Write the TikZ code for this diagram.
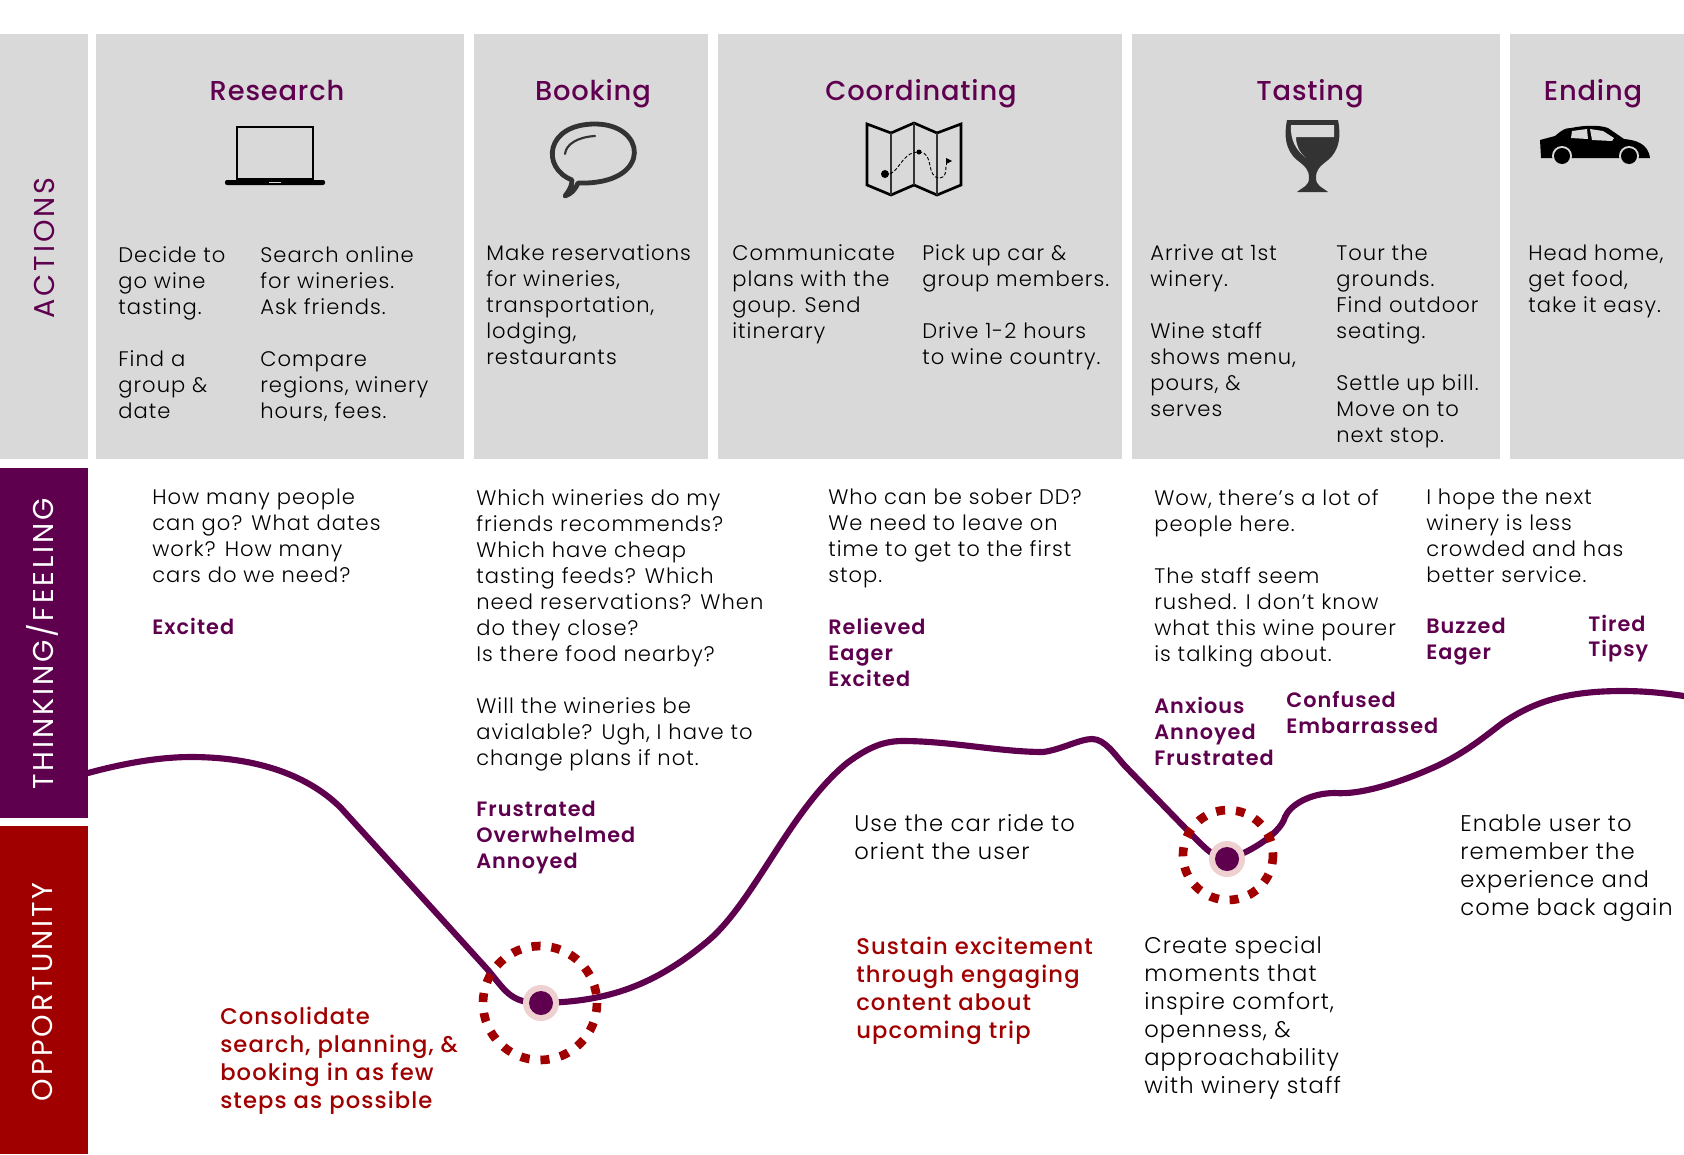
\documentclass[tikz,border=0pt]{standalone}
\usepackage{fontspec}
\setmainfont{Poppins Light}[LetterSpace=5]
\newfontfamily\medfont{Poppins Medium}[LetterSpace=3]
\newfontfamily\sidefont{Poppins}[LetterSpace=10]
\newfontfamily\boldfont{Poppins SemiBold}[LetterSpace=5]
\newfontfamily\chancefont{Poppins Medium}[LetterSpace=4.9]
\definecolor{plum}{HTML}{5F004F}
\definecolor{wine}{HTML}{A00000}
\definecolor{panel}{HTML}{D9D9D9}
\definecolor{blush}{HTML}{EFD0D0}
\definecolor{ink}{HTML}{333333}
\tikzset{
	panelbox/.style={fill=panel, draw=none},
	heading/.style={anchor=base, font=\medfont\fontsize{20.5}{24}\selectfont, text=plum, inner sep=0pt},
	sidelabel/.style={rotate=90, font=\sidefont\fontsize{21.5}{24}\selectfont, inner sep=0pt},
	body/.style={anchor=north west, align=left, inner sep=0pt, font=\fontsize{15.8}{19.5}\selectfont, text=black},
	feeling/.style={anchor=north west, align=left, inner sep=0pt, font=\boldfont\fontsize{15.6}{19.5}\selectfont, text=plum},
	bigbody/.style={anchor=north west, align=left, inner sep=0pt, font=\fontsize{17}{21}\selectfont, text=black},
	chance/.style={anchor=north west, align=left, inner sep=0pt, font=\chancefont\fontsize{17}{21}\selectfont, text=wine},
	dashring/.style={draw=wine, line width=6.5pt, dash pattern=on 6.8pt off 8.2pt},
}
\begin{document}
\begin{tikzpicture}[x=0.75pt, y=-0.75pt]
			\useasboundingbox (0,0) rectangle (1684,1154);
			% Panels
			\fill[panelbox] (0,34) rectangle (88,459);
			\fill[panelbox] (96,34) rectangle (464,459);
			\fill[panelbox] (474,34) rectangle (708,459);
			\fill[panelbox] (718,34) rectangle (1122,459);
			\fill[panelbox] (1132,34) rectangle (1500,459);
			\fill[panelbox] (1510,34) rectangle (1684,459);
			\fill[plum] (0,468) rectangle (88,818);
			\fill[wine] (0,826) rectangle (88,1154);
			% Side labels
			\node[sidelabel, text=plum] (actions) at (44,248) {ACTIONS};
			\node[sidelabel, text=white] (thinking) at (42,644) {THINKING/FEELING};
			\node[sidelabel, text=white] (opportunity) at (42,992) {OPPORTUNITY};
			% Headings
			\foreach \name/\x/\word in {research/277/Research, booking/593/Booking, coordinating/921/Coordinating, tasting/1310/Tasting, ending/1593/Ending}
			\node[heading] (\name) at (\x,100) {\word};
			% Laptop
			\draw[line width=2.2pt] (237,127) rectangle (313,179);
			\fill[rounded corners=1.5pt] (225,180) rectangle (325,185);
			\fill[panel] (269,181.5) rectangle (281,183);
			% Speech bubble
			\draw[ink, line width=3.6pt, line join=round] (572,180) .. controls (541,168) and (545,124) .. (595,124) .. controls (646,124) and (652,181) .. (586,183) -- (578,183) .. controls (575,190) and (571,194) .. (565,196) .. controls (569,191) and (572,186) .. (572,180) -- cycle;
			\draw[ink, line width=1.6pt, line cap=round] (565,154) .. controls (566,144) and (578,137) .. (595,136);
			% Map
			\draw[line width=2pt, line join=miter] (867,124) -- (891,133) -- (914,123) -- (937,133) -- (961,124) -- (961,185) -- (937,195) -- (914,185) -- (891,195) -- (867,185) -- cycle;
			\draw[ink, line width=0.9pt] (891,133) -- (891,195) (914,123) -- (914,185) (937,133) -- (937,195);
			\draw[line width=0.7pt, dash pattern=on 2.5pt off 1.5pt] (885,175) .. controls (900,175) and (900,152) .. (919,152) .. controls (935,152) and (925,178) .. (940,178) .. controls (946,178) and (946,170) .. (946,165);
			\draw[line width=0.7pt] (946,165) -- (946,159);
			\fill (885,174) circle (4);
			\fill (919,152) circle (2.5);
			\fill (946,158) -- (952,161) -- (946,164) -- cycle;
			% Wine glass
			\fill[ink] (1287,120) -- (1338,120) .. controls (1341,135) and (1340,150) .. (1328,160) .. controls (1319,167) and (1316,170) .. (1316,178) .. controls (1316,186) and (1322,187) .. (1328,192) -- (1297,192) .. controls (1303,187) and (1309,186) .. (1309,178) .. controls (1309,170) and (1306,167) .. (1297,160) .. controls (1285,150) and (1284,135) .. (1287,120) -- cycle;
			\fill[panel] (1291,125) -- (1334,125) -- (1334,137) -- (1296,137) .. controls (1296,145) and (1299,152) .. (1306,158) .. controls (1296,150) and (1290,140) .. (1291,125) -- cycle;
			% Car
			\fill (1541,158) -- (1540,140) -- (1555,136) .. controls (1562,130) and (1565,128) .. (1571,128) .. controls (1585,125) and (1600,125) .. (1608,128) -- (1624,139) .. controls (1635,140) and (1648,143) .. (1650,158) -- (1541,158) -- cycle;
			\fill[panel] (1572,131) -- (1587,129) -- (1588,139) -- (1571,138) -- cycle;
			\fill[panel] (1590,129) -- (1603,131) -- (1614,138) -- (1612,141) -- (1592,140) -- cycle;
			\fill[panel] (1562,156) circle (10);
			\fill[panel] (1629,156) circle (10);
			\fill (1562,156) circle (8);
			\fill (1629,156) circle (8);
			% Action texts
			\node[body] (act1) at (118,246) {Decide to\\go wine\\tasting.\\[19.5pt]Find a\\group \&\\date};
			\node[body] (act2) at (260,246) {Search online\\for wineries.\\Ask friends.\\[19.5pt]Compare\\regions, winery\\hours, fees.};
			\node[body] (act3) at (486,244) {Make reservations\\for wineries,\\transportation,\\lodging,\\restaurants};
			\node[body] (act4) at (732,244) {Communicate\\plans with the\\goup. Send\\itinerary};
			\node[body] (act5) at (922,244) {Pick up car \&\\group members.\\[19.5pt]Drive 1-2 hours\\to wine country.};
			\node[body] (act6) at (1150,244) {Arrive at 1st\\winery.\\[19.5pt]Wine staff\\shows menu,\\pours, \&\\serves};
			\node[body] (act7) at (1336,245) {Tour the\\grounds.\\Find outdoor\\seating.\\[19.5pt]Settle up bill.\\Move on to\\next stop.};
			\node[body] (act8) at (1528,245) {Head home,\\get food,\\take it easy.};
			% Thoughts
			\node[body] (think1) at (152,489) {How many people\\can go? What dates\\work? How many\\cars do we need?};
			\node[feeling] (feel1) at (152,618) {Excited};
			\node[body] (think2) at (476,489) {Which wineries do my\\friends recommends?\\Which have cheap\\tasting feeds? Which\\need reservations? When\\do they close?\\Is there food nearby?\\[19.5pt]Will the wineries be\\avialable? Ugh, I have to\\change plans if not.};
			\node[feeling] (feel2) at (476,801) {Frustrated\\Overwhelmed\\Annoyed};
			\node[body] (think3) at (828,489) {Who can be sober DD?\\We need to leave on\\time to get to the first\\stop.};
			\node[feeling] (feel3) at (828,618) {Relieved\\Eager\\Excited};
			\node[body] (think4) at (1154,489) {Wow, there’s a lot of\\people here.\\[19.5pt]The staff seem\\rushed. I don’t know\\what this wine pourer\\is talking about.};
			\node[feeling] (feel4) at (1154,697) {Anxious\\Annoyed\\Frustrated};
			\node[feeling] (feel5) at (1286,691) {Confused\\Embarrassed};
			\node[body] (think5) at (1426,489) {I hope the next\\winery is less\\crowded and has\\better service.};
			\node[feeling] (feel6) at (1426,618) {Buzzed\\Eager};
			\node[feeling, font=\boldfont\fontsize{15.6}{18.5}\selectfont] (feel7) at (1588,615) {Tired\\Tipsy};
			% Journey line
			\draw[plum, line width=4.6pt, line cap=round] (88,773) .. controls (125,763) and (160,757) .. (191,757) .. controls (250,757) and (305,772) .. (341,808) -- (488,970) .. controls (505,990) and (510,1003) .. (540,1003) .. controls (600,1002) and (650,990) .. (709,940) .. controls (755,900) and (790,810) .. (847,763) .. controls (870,746) and (885,741) .. (903,741) .. controls (950,741) and (1000,752) .. (1043,752) .. controls (1060,750) and (1080,739) .. (1092,739) .. controls (1105,739) and (1115,755) .. (1125,766) -- (1190,833) .. controls (1205,848) and (1215,859) .. (1227,859) .. controls (1245,855) and (1280,835) .. (1285,817) .. controls (1290,805) and (1310,793) .. (1335,793) .. controls (1360,795) and (1400,783) .. (1439,765) .. controls (1470,750) and (1490,732) .. (1504,722) .. controls (1530,705) and (1560,691) .. (1622,691) .. controls (1650,691) and (1670,694) .. (1684,696);
			% Low points
			\draw[dashring] (540,1003) circle (57);
			\fill[blush] (541,1003) circle (18);
			\fill[plum] (541,1003) circle (12);
			\draw[dashring, dash pattern=on 6.8pt off 8.2pt] (1228,855) circle (45);
			\fill[blush] (1227,859) circle (18);
			\fill[plum] (1227,859) circle (12);
			% Opportunities
			\node[chance] (chance1) at (220,1007) {Consolidate\\search, planning, \&\\booking in as few\\steps as possible};
			\node[bigbody] (hint1) at (854,814) {Use the car ride to\\orient the user};
			\node[chance] (chance2) at (856,937) {Sustain excitement\\through engaging\\content about\\upcoming trip};
			\node[bigbody] (hint2) at (1144,936) {Create special\\moments that\\inspire comfort,\\openness, \&\\approachability\\with winery staff};
			\node[bigbody] (hint3) at (1460,814) {Enable user to\\remember the\\experience and\\come back again};
		\end{tikzpicture}
\end{document}
